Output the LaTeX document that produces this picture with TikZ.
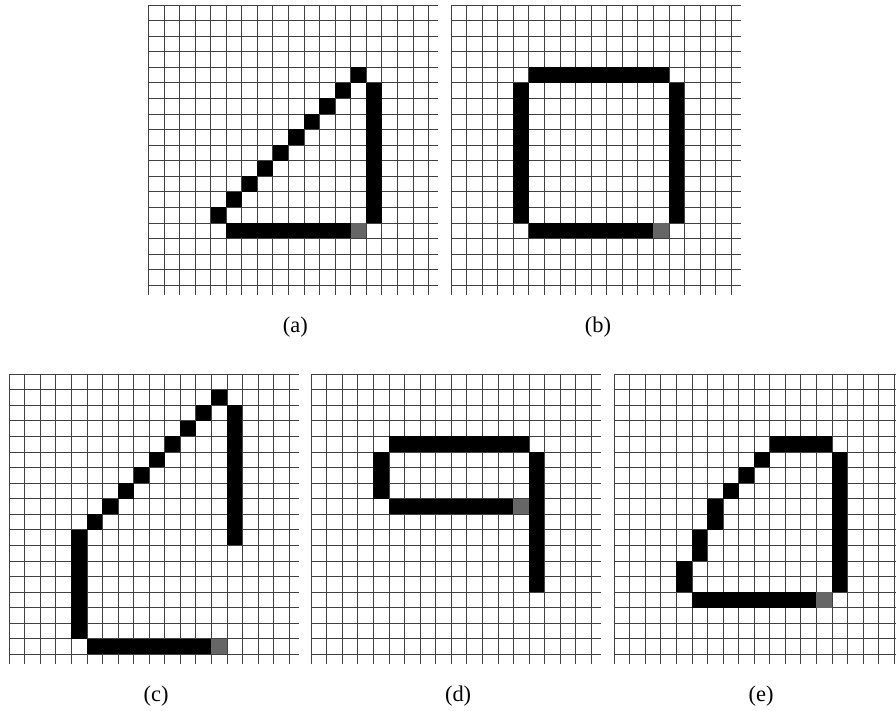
\documentclass[tikz,border=0pt]{standalone}
\usepackage{fontspec}
\setmainfont{Liberation Serif}
\tikzset{
  gridline/.style={draw=black!75, line width=0.55pt},
  pix/.style={fill=black},
  endpix/.style={fill=black!60},
  caption/.style={font=\fontsize{20.5}{24}\selectfont},
}

\begin{document}
\begin{tikzpicture}[x=0.5cm, y=-0.5cm]
  \path[use as bounding box, clip] (0,0) rectangle (57.58,45.69);
  % the five pixel grids with their captions
  \foreach \px/\py/\lab in {9.53/0.32/a, 28.98/0.32/b, 0.58/24.04/c, 19.99/24.04/d, 39.46/24.04/e} {
    \begin{scope}[shift={(\px,\py)}]
      \foreach \k in {0,...,18} {
        \draw[gridline] (\k,0) -- (\k,18.62);
        \draw[gridline] (0,\k) -- (18.62,\k);
      }
      \node[caption] (cap\lab) at (9.45,20.7) {(\lab)};
    \end{scope}
  }
  % (a) triangle
  \begin{scope}[shift={(9.53,0.32)}]
    \fill[pix] (13,4) rectangle ++(1,1);
    \fill[pix] (14,5) rectangle (15,14);
    \foreach \i in {0,...,8} \fill[pix] (12-\i,5+\i) rectangle ++(1,1);
    \fill[pix] (5,14) rectangle (13,15);
    \fill[endpix] (13,14) rectangle ++(1,1);
  \end{scope}
  % (b) square
  \begin{scope}[shift={(28.98,0.32)}]
    \fill[pix] (5,4) rectangle (14,5);
    \fill[pix] (4,5) rectangle (5,14);
    \fill[pix] (14,5) rectangle (15,14);
    \fill[pix] (5,14) rectangle (13,15);
    \fill[endpix] (13,14) rectangle ++(1,1);
  \end{scope}
  % (c) open outline
  \begin{scope}[shift={(0.58,24.04)}]
    \fill[pix] (13,1) rectangle ++(1,1);
    \fill[pix] (14,2) rectangle (15,11);
    \foreach \i in {0,...,7} \fill[pix] (12-\i,2+\i) rectangle ++(1,1);
    \fill[pix] (4,10) rectangle (5,17);
    \fill[pix] (5,17) rectangle (13,18);
    \fill[endpix] (13,17) rectangle ++(1,1);
  \end{scope}
  % (d) hook
  \begin{scope}[shift={(19.99,24.04)}]
    \fill[pix] (5,4) rectangle (14,5);
    \fill[pix] (4,5) rectangle (5,8);
    \fill[pix] (5,8) rectangle (13,9);
    \fill[endpix] (13,8) rectangle ++(1,1);
    \fill[pix] (14,5) rectangle (15,14);
  \end{scope}
  % (e) rounded outline
  \begin{scope}[shift={(39.46,24.04)}]
    \fill[pix] (10,4) rectangle (14,5);
    \fill[pix] (14,5) rectangle (15,14);
    \foreach \i in {0,1,2} \fill[pix] (9-\i,5+\i) rectangle ++(1,1);
    \fill[pix] (6,8) rectangle (7,10);
    \fill[pix] (5,10) rectangle (6,12);
    \fill[pix] (4,12) rectangle (5,14);
    \fill[pix] (5,14) rectangle (13,15);
    \fill[endpix] (13,14) rectangle ++(1,1);
  \end{scope}
\end{tikzpicture}
\end{document}
